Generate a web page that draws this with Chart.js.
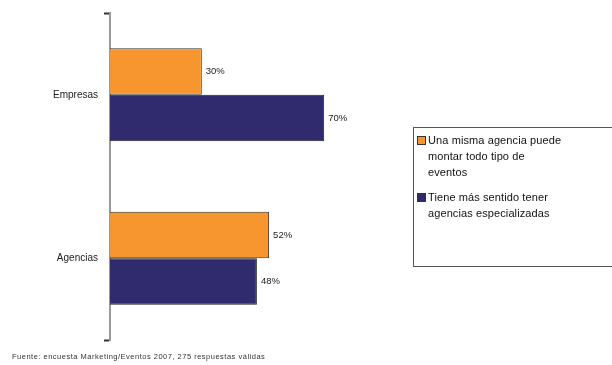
<!DOCTYPE html>
<html><head><meta charset="utf-8">
<script src="https://cdn.jsdelivr.net/npm/chart.js@4/dist/chart.umd.min.js"></script>
<style>
html,body{margin:0;padding:0;background:#fff;}
#wrap{position:relative;width:612px;height:365px;overflow:hidden;font-family:"Liberation Sans",Arial,sans-serif;}
#c{position:absolute;left:0;top:0;}
#legend{position:absolute;left:413px;top:127px;width:210px;height:140px;border:1px solid #555;box-sizing:border-box;font-size:11px;color:#111;white-space:nowrap;}
.item{position:relative;padding-left:14px;line-height:16px;letter-spacing:0.1px;}
.sw{position:absolute;left:3px;top:4px;width:7px;height:7px;border:1px solid #333;}
#foot{position:absolute;left:12px;top:352px;font-size:7.5px;color:#333;letter-spacing:0.5px;}
</style></head>
<body><div id="wrap"><canvas id="c" width="612" height="365"></canvas>
<div id="legend"></div>
<div id="foot">Fuente: encuesta Marketing/Eventos 2007, 275 respuestas válidas</div></div>
<script>
const categories = ["Empresas", "Agencias"];
const seriesNames = ["Una misma agencia puede montar todo tipo de eventos", "Tiene más sentido tener agencias especializadas"];
const legendLines = [["Una misma agencia puede", "montar todo tipo de", "eventos"], ["Tiene más sentido tener", "agencias especializadas"]];
const seriesA = [30, 52];
const seriesB = [70, 48];
const colors = ["#F7962F", "#302A6E"];

const lg = document.getElementById('legend');
legendLines.forEach((lines,i)=>{
  const d=document.createElement('div');d.className='item';
  d.style.marginTop = i===0 ? '4px' : '9px';
  d.innerHTML='<span class="sw" style="background:'+colors[i]+'"></span>'+lines.join('<br>');
  lg.appendChild(d);
});

const valueLabels = {
  id:'valueLabels',
  afterDatasetsDraw(chart){
    const ctx=chart.ctx;ctx.save();
    ctx.font='9.5px "Liberation Sans", Arial';ctx.fillStyle='#222';ctx.textBaseline='middle';ctx.textAlign='left';
    chart.data.datasets.forEach((ds,di)=>{
      chart.getDatasetMeta(di).data.forEach((el,i)=>{
        ctx.fillText(ds.data[i]+'%', el.x+4, el.y);
      });
    });
    ctx.restore();
  }
};

new Chart(document.getElementById('c'),{
  type:'bar',
  data:{labels:categories,datasets:[
    {label:seriesNames[0],data:seriesA,backgroundColor:colors[0],borderColor:'#333',borderWidth:1,barPercentage:1,categoryPercentage:0.57},
    {label:seriesNames[1],data:seriesB,backgroundColor:colors[1],borderColor:'#222',borderWidth:1,barPercentage:1,categoryPercentage:0.57}
  ]},
  options:{
    indexAxis:'y',responsive:false,animation:false,
    layout:{padding:{left:0,right:196,top:13,bottom:25}},
    plugins:{legend:{display:false},tooltip:{enabled:false}},
    scales:{
      x:{display:false,min:0,max:100},
      y:{
        offset:true,
        afterFit:(s)=>{s.width=110;},
        border:{display:true,color:'#999',width:2},
        grid:{drawOnChartArea:false,tickLength:6,tickWidth:2,tickColor:(ctx)=>ctx.index===1?'rgba(0,0,0,0)':'#333'},
        ticks:{color:'#222',font:{family:'"Liberation Sans", Arial',size:10},padding:6}
      }
    }
  },
  plugins:[valueLabels]
});
</script></body></html>
